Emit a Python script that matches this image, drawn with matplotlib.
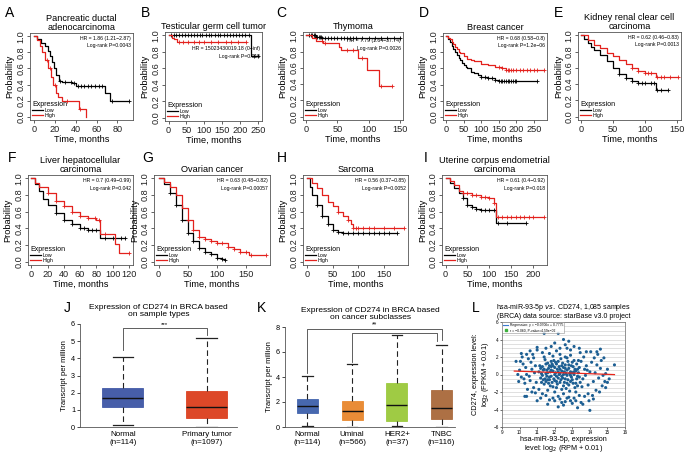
import matplotlib
matplotlib.use("Agg")
import matplotlib.pyplot as plt
import numpy as np
from matplotlib.lines import Line2D

plt.rcParams["font.family"] = ["Liberation Sans", "DejaVu Sans"]

W, H = 692, 455
RED = "#e3211d"

# ---- Kaplan-Meier data (knots of the step curves + censor times) ----
A_LOW_T = [0, 3, 7, 10, 13, 15, 17, 19, 21, 24, 27, 36, 40, 68, 73, 91]
A_LOW_S = [1.0, 0.97, 0.92, 0.88, 0.82, 0.75, 0.68, 0.6, 0.52, 0.45, 0.43, 0.42, 0.38, 0.3, 0.2, 0.2]
A_LOW_C = [25, 30, 35, 38, 42, 45, 48, 52, 55, 58, 62, 65, 75, 91]
A_HIGH_T = [0, 3, 6, 8, 10, 13, 16, 18, 21, 23, 27, 43, 50]
A_HIGH_S = [1.0, 0.95, 0.88, 0.8, 0.7, 0.6, 0.5, 0.4, 0.3, 0.25, 0.2, 0.1, 0.0]
A_HIGH_C = [12, 15, 20, 32, 44]

B_LOW_T = [0, 232, 250]
B_LOW_S = [1.0, 0.75, 0.75]
B_LOW_C = [8, 14, 22, 30, 38, 45, 55, 62, 70, 80, 88, 95, 105, 112, 120, 130, 138,
           145, 155, 165, 172, 180, 190, 198, 205, 215, 225, 240, 250]
B_HIGH_T = [0, 10, 15, 25, 218]
B_HIGH_S = [1.0, 0.97, 0.95, 0.92, 0.92]
B_HIGH_C = [30, 40, 55, 70, 85, 100, 120, 140, 160, 175, 195, 218]

C_LOW_T = [0, 15, 25, 150]
C_LOW_S = [1.0, 0.98, 0.97, 0.97]
C_LOW_C = [5, 8, 10, 12, 14, 16, 18, 20, 22, 24, 26, 30, 35, 40, 45, 50, 55, 60, 65,
           70, 75, 80, 90, 100, 110, 120, 130, 140, 150]
C_HIGH_T = [0, 10, 15, 27, 52, 55, 83, 97, 117, 137]
C_HIGH_S = [1.0, 0.97, 0.93, 0.9, 0.86, 0.82, 0.72, 0.57, 0.38, 0.38]
C_HIGH_C = [25, 30, 65, 75, 90, 120, 137]

D_LOW_T = [0, 5, 10, 15, 20, 25, 30, 35, 40, 45, 50, 55, 60, 70, 80, 90, 100, 120, 140, 150, 260]
D_LOW_S = [1.0, 0.97, 0.93, 0.88, 0.84, 0.8, 0.77, 0.73, 0.7, 0.67, 0.64, 0.62, 0.6, 0.56,
           0.54, 0.52, 0.5, 0.48, 0.46, 0.45, 0.45]
D_LOW_C = [100, 110, 120, 130, 140, 150, 155, 160, 165, 170, 175, 180, 185, 190, 195, 200, 260]
D_HIGH_T = [0, 5, 10, 15, 20, 25, 30, 35, 40, 50, 60, 70, 80, 100, 120, 140, 160, 170, 280]
D_HIGH_S = [1.0, 0.98, 0.96, 0.93, 0.9, 0.87, 0.84, 0.81, 0.79, 0.75, 0.72, 0.7, 0.69, 0.66,
            0.64, 0.62, 0.61, 0.58, 0.58]
D_HIGH_C = [150, 160, 170, 175, 180, 185, 190, 200, 210, 220, 230, 240, 250, 260, 280]

E_LOW_T = [0, 5, 10, 15, 20, 30, 40, 50, 60, 70, 80, 90, 118, 137]
E_LOW_S = [1.0, 0.95, 0.9, 0.86, 0.82, 0.76, 0.68, 0.6, 0.52, 0.47, 0.44, 0.41, 0.33, 0.33]
E_LOW_C = [60, 70, 80, 90, 95, 100, 110, 115, 120, 125, 137]
E_HIGH_T = [0, 10, 20, 30, 40, 50, 60, 70, 80, 90, 100, 118, 152]
E_HIGH_S = [1.0, 0.94, 0.88, 0.84, 0.78, 0.74, 0.7, 0.65, 0.6, 0.56, 0.54, 0.49, 0.49]
E_HIGH_C = [80, 90, 100, 105, 110, 120, 125, 130, 140, 152]

F_LOW_T = [0, 5, 10, 15, 20, 30, 40, 50, 60, 70, 85, 115]
F_LOW_S = [1.0, 0.93, 0.85, 0.75, 0.68, 0.58, 0.5, 0.45, 0.41, 0.38, 0.29, 0.29]
F_LOW_C = [30, 40, 50, 60, 65, 70, 75, 80, 90, 100, 110, 115]
F_HIGH_T = [0, 5, 10, 20, 30, 40, 50, 60, 70, 80, 84, 103, 108, 120]
F_HIGH_S = [1.0, 0.95, 0.9, 0.82, 0.73, 0.67, 0.6, 0.55, 0.52, 0.5, 0.33, 0.21, 0.1, 0.1]
F_HIGH_C = [20, 30, 40, 50, 60, 70, 78, 83, 90, 120]

G_LOW_T = [0, 10, 20, 30, 40, 50, 60, 70, 80, 90, 100, 110, 115]
G_LOW_S = [1.0, 0.93, 0.82, 0.68, 0.5, 0.35, 0.25, 0.17, 0.12, 0.09, 0.05, 0.03, 0.02]
G_LOW_C = [20, 30, 40, 50, 60, 70, 80, 90, 100, 110, 115]
G_HIGH_T = [0, 10, 20, 30, 40, 50, 60, 70, 80, 90, 100, 120, 130, 140, 155, 185]
G_HIGH_S = [1.0, 0.96, 0.9, 0.8, 0.65, 0.5, 0.38, 0.3, 0.27, 0.25, 0.22, 0.18, 0.15, 0.12, 0.08, 0.08]
G_HIGH_C = [50, 60, 70, 80, 90, 100, 110, 120, 130, 140, 150, 160, 185]

H_LOW_T = [0, 5, 10, 20, 30, 40, 50, 60, 70, 175]
H_LOW_S = [1.0, 0.9, 0.8, 0.68, 0.55, 0.45, 0.38, 0.36, 0.35, 0.35]
H_LOW_C = [20, 30, 40, 50, 60, 70, 80, 90, 100, 110, 120, 130, 140, 150, 160, 175]
H_HIGH_T = [0, 10, 20, 30, 40, 50, 60, 70, 80, 85, 90, 190]
H_HIGH_S = [1.0, 0.95, 0.88, 0.8, 0.72, 0.67, 0.6, 0.55, 0.5, 0.45, 0.4, 0.4]
H_HIGH_C = [60, 80, 90, 95, 100, 110, 120, 130, 150, 170, 190]

I_LOW_T = [0, 10, 20, 30, 40, 50, 60, 70, 80, 115, 185]
I_LOW_S = [1.0, 0.95, 0.88, 0.82, 0.76, 0.68, 0.66, 0.63, 0.62, 0.46, 0.46]
I_LOW_C = [40, 50, 60, 70, 80, 90, 100, 110, 120, 140, 185]
I_HIGH_T = [0, 10, 20, 30, 40, 60, 80, 100, 110, 115, 225]
I_HIGH_S = [1.0, 0.97, 0.92, 0.85, 0.82, 0.8, 0.78, 0.76, 0.7, 0.54, 0.54]
I_HIGH_C = [40, 50, 60, 70, 80, 90, 100, 110, 120, 130, 140, 150, 160, 170, 180, 190, 200, 225]

# ---- box plot data (whislo, q1, median, q3, whishi) ----
J_LABELS = ["Normal\n(n=114)", "Primary tumor\n(n=1097)"]
J_STATS = [[0.1, 1.15, 1.7, 2.25, 4.1], [0.0, 0.55, 1.15, 2.1, 5.2]]
J_COLORS = ["#3d55a5", "#dc3e1c"]

K_LABELS = ["Normal\n(n=114)", "Uminal\n(n=566)", "HER2+\n(n=37)", "TNBC\n(n=116)"]
K_STATS = [[0.1, 1.1, 1.7, 2.25, 4.1], [0.0, 0.6, 1.25, 2.1, 5.05],
           [0.1, 0.5, 1.8, 3.55, 7.4], [0.0, 0.65, 1.5, 3.0, 6.6]]
K_COLORS = ["#3d60ab", "#e8862c", "#9ac93a", "#a9683a"]

# ---- scatter data (miR-93-5p log2 RPM, CD274 log2 FPKM) ----
L_POINTS = [
    (11.1, 0.3), (11.2, -0.4), (11.3, 0.9), (11.4, -1.1), (11.5, 0.1), (11.6, 1.3), (11.7, -0.6), (11.8, 0.5),
    (11.9, -1.4), (12.0, 0.8), (12.1, -0.2), (12.2, 1.5), (12.3, -0.9), (12.4, 0.4), (12.5, -1.3), (12.6, 1.1),
    (12.7, -0.1), (12.8, 0.7), (12.9, -0.8), (13.0, 1.4), (13.1, 0.0), (13.2, -1.0), (13.3, 0.6), (13.4, -0.3),
    (11.15, 1.0), (11.25, -0.9), (11.35, 0.5), (11.45, 1.7), (11.55, -0.2), (11.65, 0.7), (11.75, -1.3),
    (11.85, 1.2), (11.95, -0.5), (12.05, 0.2), (12.15, -1.1), (12.25, 0.9), (12.35, 1.8), (12.45, -0.4),
    (12.55, 0.3), (12.65, -1.6), (12.75, 1.5), (12.85, 0.1), (12.95, -0.3), (13.05, 0.9), (13.15, -1.5),
    (13.25, 1.2), (13.35, 0.2), (13.45, -0.9), (11.3, -0.1), (11.4, 0.6), (11.5, -0.8), (11.6, 0.2), (11.7, 1.0),
    (11.8, -0.2), (11.9, 0.4), (12.0, -0.7), (12.1, 1.2), (12.2, -0.4), (12.3, 0.1), (12.4, -1.7), (12.5, 0.8),
    (12.6, -0.5), (12.7, 1.9), (12.8, -1.2), (12.9, 0.3), (13.0, -0.6), (13.1, 1.6), (13.2, 0.4), (13.3, -1.3),
    (13.4, 0.8), (11.2, 0.7), (11.35, -0.6), (11.5, 1.2), (11.65, -1.0), (11.8, 0.9), (11.95, 1.6), (12.1, -1.5),
    (12.25, 0.0), (12.4, 1.0), (12.55, -0.9), (12.7, 0.5), (12.85, -1.9), (13.0, 0.2), (13.15, 0.6), (13.3, -0.2),
    (11.9, 2.1), (12.3, 2.3), (12.6, 2.0), (11.6, -1.8), (12.0, -2.0), (12.5, -2.2), (12.9, 2.2), (13.2, -2.0),
    (11.4, 2.0), (11.7, 2.4), (12.2, -2.5), (12.8, -2.6), (13.5, 1.5), (13.6, -0.5), (13.7, 0.6), (13.8, 1.0),
    (13.9, -1.2), (14.0, 0.3), (13.55, -1.4), (13.65, 2.0), (13.75, -0.1), (13.85, 0.5), (14.1, 1.4), (14.2, -0.8),
    (14.3, 0.2), (10.0, 0.5), (10.1, -0.3), (10.2, 1.2), (10.3, -1.0), (10.4, 0.0), (10.5, 1.8), (10.6, -0.7),
    (10.7, 0.6), (10.8, -1.5), (10.9, 1.0), (10.15, 2.0), (10.35, 0.8), (10.55, -0.2), (10.75, 2.3), (10.95, -0.9),
    (10.45, -1.7), (10.65, 1.4), (10.85, 0.2), (10.25, -0.5), (10.05, 1.5), (9.8, 1.5), (9.9, 0.0), (9.95, -0.8),
    (10.1, 2.4), (10.6, 2.7), (10.9, -2.1), (10.4, -2.5), (11.0, 2.8), (11.2, -2.7), (11.1, -1.7), (14.4, 1.1),
    (14.5, -0.4), (14.6, 0.7), (14.7, -1.3), (14.8, 1.9), (14.9, 0.1), (14.45, 2.3), (14.55, -2.0), (14.65, 1.6),
    (14.75, -0.1), (14.85, -0.8), (15.0, 0.6), (15.1, -0.5), (15.4, 1.1), (14.35, -1.8), (14.15, -2.4),
    (14.05, 2.6), (13.95, -3.0), (14.25, 1.9), (13.45, 2.5), (11.4, 4.7), (12.2, 4.7), (12.5, 4.0), (12.8, 3.8),
    (12.0, 3.6), (11.8, 3.2), (12.6, 3.4), (13.1, 3.2), (11.5, 3.0), (13.4, 3.0), (12.3, 3.0), (11.0, 3.1),
    (14.6, 2.9), (14.4, 2.6), (10.4, 2.3), (12.9, 2.8), (13.8, 2.6), (11.3, 2.5), (12.1, 2.7), (12.7, 3.0),
    (12.0, -3.0), (12.4, -3.2), (12.6, -3.1), (13.0, -3.3), (13.2, -3.0), (13.5, -3.2), (13.6, -3.4), (14.0, -4.1),
    (13.3, -3.8), (11.7, -2.9), (11.9, -2.7), (12.3, -2.8), (13.1, -2.7), (12.9, -3.0), (11.5, -2.4), (11.3, -2.2),
    (13.7, -2.5), (14.2, -2.8), (13.9, -2.2), (12.5, -3.5), (11.0, -3.0), (10.7, -2.0), (10.3, -2.5), (14.9, -1.5),
    (15.0, -0.9), (12.7, -2.7), (11.6, -3.4), (12.2, -3.7), (13.4, -2.4), (10.8, 1.9), (11.25, 0.1), (11.45, -0.5),
    (11.55, 0.5), (11.75, 0.3), (11.85, -0.9), (12.05, 1.4), (12.15, 0.6), (12.35, -0.6), (12.45, 1.3),
    (12.65, 0.1), (12.75, -0.6), (12.95, 1.0), (13.05, -1.0), (13.25, -0.5), (13.35, 1.6), (12.2, 0.3),
    (12.6, 0.7), (12.0, 0.0), (11.7, -0.3), (12.9, -0.1), (12.4, -0.2), (12.8, 1.1), (11.9, 1.0), (12.3, 0.6),
    (12.7, -1.0), (11.6, -0.6), (13.1, 0.3), (12.1, -0.8), (12.5, 0.0), (11.8, 1.5),
]
L_REG_X = [9.7, 15.4]
L_REG_SLOPE, L_REG_INTERCEPT = -0.0706, 1.0775

KM_FS = 6.6


def rect(left, top, right, bottom):
    """Pixel box -> figure fraction rect."""
    return [left / W, 1 - bottom / H, (right - left) / W, (bottom - top) / H]


def step_value(times, surv, t):
    idx = np.searchsorted(times, t, side="right") - 1
    return np.asarray(surv)[np.clip(idx, 0, len(surv) - 1)]


def km_panel(fig, box, title, xlim, xticks, hr, low, high, hr_y=0.97):
    ax = fig.add_axes(rect(*box))
    for (t, s, c), color in ((low, "black"), (high, RED)):
        ax.step(t, s, where="post", color=color, lw=0.9)
        ax.plot(c, step_value(np.array(t), s, np.array(c)), ls="none", marker="+",
                ms=2.5, mew=0.6, color=color)
    ax.set_xlim(*xlim)
    ax.set_ylim(-0.04, 1.04)
    ax.set_xticks(xticks)
    ax.set_yticks([0, 0.2, 0.4, 0.6, 0.8, 1.0])
    ax.set_yticklabels(["0.0", "0.2", "0.4", "0.6", "0.8", "1.0"], rotation=90, va="center")
    ax.tick_params(length=2, width=0.5, labelsize=KM_FS, pad=1.5, colors="#222")
    for sp in ax.spines.values():
        sp.set_linewidth(0.6)
        sp.set_color("#555")
    ax.set_title(title, fontsize=KM_FS, pad=2, linespacing=1.0)
    ax.set_xlabel("Time, months", fontsize=KM_FS, labelpad=1.0)
    ax.set_ylabel("Probability", fontsize=KM_FS, labelpad=1.0)
    ax.text(0.98, hr_y, hr, transform=ax.transAxes, ha="right", va="top",
            fontsize=3.7, linespacing=1.7)
    handles = [Line2D([], [], color="black", lw=0.9), Line2D([], [], color=RED, lw=0.9)]
    leg = ax.legend(handles, ["Low", "High"], title="Expression", loc="lower left",
                    frameon=False, fontsize=3.8, title_fontsize=5.0, handlelength=2.0,
                    handletextpad=0.3, labelspacing=0.0, borderaxespad=0.1, borderpad=0.3)
    leg._legend_box.align = "left"
    return ax


fig = plt.figure(figsize=(W / 100, H / 100), dpi=100)

km_panel(fig, (30, 33, 133, 120), "Pancreatic ductal\nadenocarcinoma", (-4, 95), [0, 20, 40, 60, 80],
         "HR = 1.86 (1.21\u22122.87)\nLog-rank P=0.0043",
         (A_LOW_T, A_LOW_S, A_LOW_C), (A_HIGH_T, A_HIGH_S, A_HIGH_C))
km_panel(fig, (165, 32, 262, 121), "Testicular germ cell tumor", (-10, 262), [0, 50, 100, 150, 200, 250],
         "HR = 15023430019.18 (0\u2212inf)\nLog-rank P=0.015",
         (B_LOW_T, B_LOW_S, B_LOW_C), (B_HIGH_T, B_HIGH_S, B_HIGH_C), hr_y=0.84)
km_panel(fig, (303, 32, 403, 120), "Thymoma", (-5, 155), [0, 50, 100, 150],
         "HR = 7.79 (1.64\u221237.74)\nLog-rank P=0.0026",
         (C_LOW_T, C_LOW_S, C_LOW_C), (C_HIGH_T, C_HIGH_S, C_HIGH_C), hr_y=0.93)
km_panel(fig, (443, 33, 547, 120), "Breast cancer", (-10, 288), [0, 50, 100, 150, 200, 250],
         "HR = 0.68 (0.58\u22120.8)\nLog-rank P=1.2e\u221206",
         (D_LOW_T, D_LOW_S, D_LOW_C), (D_HIGH_T, D_HIGH_S, D_HIGH_C))
km_panel(fig, (578, 32, 681, 120), "Kidney renal clear cell\ncarcinoma", (-5, 157), [0, 50, 100, 150],
         "HR = 0.62 (0.46\u22120.83)\nLog-rank P=0.0013",
         (E_LOW_T, E_LOW_S, E_LOW_C), (E_HIGH_T, E_HIGH_S, E_HIGH_C))

km_panel(fig, (28, 175, 133, 265), "Liver hepatocellular\ncarcinoma", (-4, 125), [0, 20, 40, 60, 80, 100, 120],
         "HR = 0.7 (0.49\u22120.99)\nLog-rank P=0.042",
         (F_LOW_T, F_LOW_S, F_LOW_C), (F_HIGH_T, F_HIGH_S, F_HIGH_C))
km_panel(fig, (154, 175, 270, 265), "Ovarian cancer", (-8, 192), [0, 50, 100, 150],
         "HR = 0.63 (0.48\u22120.82)\nLog-rank P=0.00057",
         (G_LOW_T, G_LOW_S, G_LOW_C), (G_HIGH_T, G_HIGH_S, G_HIGH_C))
km_panel(fig, (303, 175, 408, 265), "Sarcoma", (-8, 197), [0, 50, 100, 150],
         "HR = 0.56 (0.37\u22120.85)\nLog-rank P=0.0052",
         (H_LOW_T, H_LOW_S, H_LOW_C), (H_HIGH_T, H_HIGH_S, H_HIGH_C))
km_panel(fig, (442, 175, 547, 265), "Uterine corpus endometrial\ncarcinoma", (-8, 232), [0, 50, 100, 150, 200],
         "HR = 0.61 (0.4\u22120.92)\nLog-rank P=0.018",
         (I_LOW_T, I_LOW_S, I_LOW_C), (I_HIGH_T, I_HIGH_S, I_HIGH_C))


def box_panel(fig, box, title, labels, stats, colors, xlim, ylim, yticks, width):
    ax = fig.add_axes(rect(*box))
    pos = np.arange(1, len(stats) + 1)
    bstats = [dict(whislo=s[0], q1=s[1], med=s[2], q3=s[3], whishi=s[4]) for s in stats]
    bp = ax.bxp(bstats, positions=pos, widths=width, patch_artist=True, showfliers=False,
                capwidths=width * 0.5,
                whiskerprops=dict(ls=(0, (5, 3)), lw=0.8, color="#222"),
                capprops=dict(lw=0.9, color="#222"),
                medianprops=dict(color="#111", lw=1.0))
    for patch, c in zip(bp["boxes"], colors):
        patch.set_facecolor(c)
        patch.set_edgecolor(c)
        patch.set_alpha(0.95)
        patch.set_linewidth(0.6)
    ax.set_xlim(*xlim)
    ax.set_ylim(*ylim)
    ax.set_yticks(yticks)
    ax.set_xticks(pos)
    ax.set_xticklabels(labels, fontsize=5.8, linespacing=1.1)
    ax.tick_params(axis="y", length=2, width=0.5, labelsize=5.2, pad=1.5)
    ax.tick_params(axis="x", length=0, pad=3)
    for sp in ("top", "right"):
        ax.spines[sp].set_visible(False)
    for sp in ("left", "bottom"):
        ax.spines[sp].set_linewidth(0.6)
        ax.spines[sp].set_color("#555")
    ax.set_ylabel("Transcript per million", fontsize=5.5, labelpad=2)
    ax.set_title(title, fontsize=6.0, pad=6, linespacing=1.0)
    return ax


axj = box_panel(fig, (80, 324, 237, 427), "Expression of CD274 in BRCA based\non sample types",
                J_LABELS, J_STATS, J_COLORS, (0.49, 2.36), (0, 6), range(7), 0.49)
axj.plot([1, 1, 2, 2], [4.5, 5.75, 5.75, 5.35], color="#444", lw=0.6, clip_on=False)
axj.text(1.5, 5.8, "***", ha="center", va="bottom", fontsize=4.5)

axk = box_panel(fig, (285, 327, 455, 427), "Expression of CD274 in BRCA based\non cancer subclasses",
                K_LABELS, K_STATS, K_COLORS, (0.5, 4.3), (0, 8), [0, 2, 4, 6, 8], 0.47)
axk.plot([1, 1, 4, 4], [4.3, 7.85, 7.85, 7.0], color="#444", lw=0.6, clip_on=False)
axk.plot([2, 2, 3.9, 3.9], [5.2, 7.5, 7.5, 6.85], color="#444", lw=0.6, clip_on=False)
axk.text(2.5, 7.92, "**", ha="center", va="bottom", fontsize=5, clip_on=False)

# ---- L: scatter ----
axl = fig.add_axes(rect(502, 322, 625, 427))
pts = np.array(L_POINTS)
for yv in np.arange(-6, 6.01, 0.5):
    axl.axhline(yv, color="#c9c9c9", lw=0.4, zorder=0)
axl.scatter(pts[:, 0], pts[:, 1], s=5, color="#1d5f93", edgecolors="none", zorder=2)
reg_x = np.array(L_REG_X)
axl.plot(reg_x, L_REG_SLOPE * reg_x + L_REG_INTERCEPT, color="#e8261c", lw=0.9, zorder=3)
axl.set_xlim(9, 16)
axl.set_ylim(-6, 6)
axl.set_xticks(range(9, 17))
axl.set_yticks(range(-6, 7, 2))
axl.tick_params(length=1.5, width=0.4, labelsize=3.3, pad=0.8)
for sp in axl.spines.values():
    sp.set_linewidth(0.5)
    sp.set_color("#666")
axl.set_title("hsa-miR-93-5p $\\it{vs.}$ CD274, 1,085 samples\n(BRCA) data source: starBase v3.0 project",
              fontsize=5.0, pad=3, linespacing=1.05)
axl.set_xlabel("hsa-miR-93-5p, expression\nlevel: log$_2$ (RPM + 0.01)", fontsize=5.2, labelpad=0.5,
               linespacing=0.95)
axl.set_ylabel("CD274, expression level:\nlog$_2$ (FPKM + 0.01)", fontsize=5.3, labelpad=2, linespacing=1.1)
lh = [Line2D([], [], color="#3b7bd0", lw=0.8),
      Line2D([], [], color="#3cb03c", marker="s", ms=2, ls="none")]
lleg = axl.legend(lh, ["Regression: y = \u22120.0706x + 0.7775", "r = \u22120.060, P-value=4.59e\u221202"],
                  loc="upper left", fontsize=2.4, frameon=True, fancybox=False, handlelength=1.5,
                  handletextpad=0.4, labelspacing=0.3, borderpad=0.3, borderaxespad=0.1)
lleg.get_frame().set_linewidth(0.4)
lleg.get_frame().set_edgecolor("#777")

# ---- panel letters ----
for letter, (x, y) in {"A": (5, 17), "B": (141, 17), "C": (276, 17), "D": (419, 17), "E": (554, 17),
                       "F": (8, 162), "G": (142, 162), "H": (277, 162), "I": (424, 162),
                       "J": (64, 312), "K": (257, 312), "L": (472, 312)}.items():
    fig.text(x / W, 1 - y / H, letter, fontsize=10, ha="left", va="baseline")

fig.savefig("out.png", dpi=100)
